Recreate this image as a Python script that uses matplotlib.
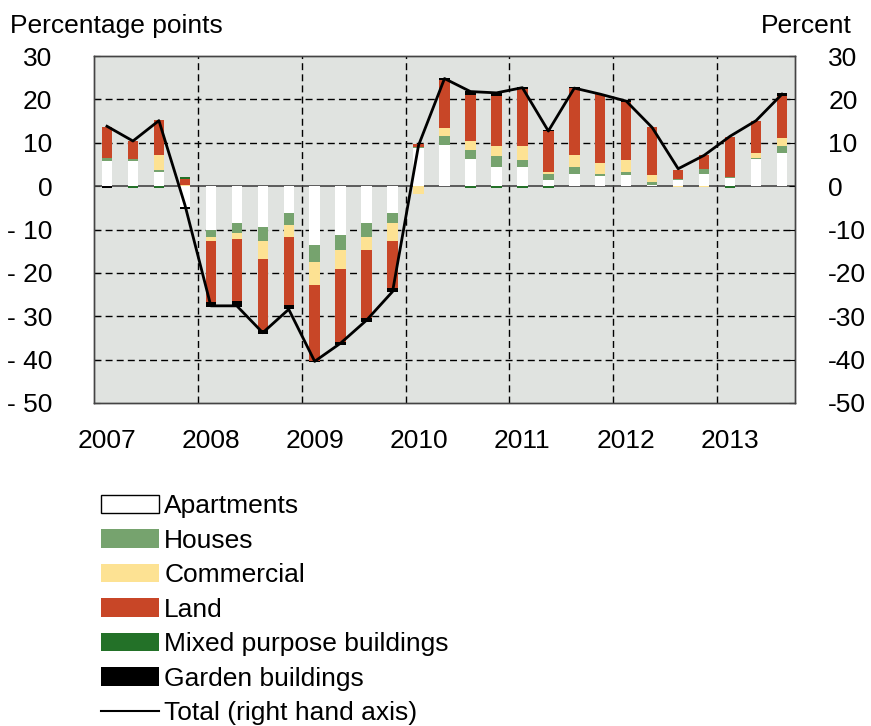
import numpy as np
import matplotlib
matplotlib.use("Agg")
import matplotlib.pyplot as plt
from matplotlib.patches import Patch
from matplotlib.lines import Line2D

plt.rcParams["font.family"] = ["Liberation Sans", "DejaVu Sans"]

# Quarterly contributions, 2007Q1 .. 2013Q3 (percentage points)
quarters = [f"{y}Q{q}" for y in range(2007, 2014) for q in range(1, 5)][:27]
years = ["2007", "2008", "2009", "2010", "2011", "2012", "2013"]

apartments = [5.9, 5.9, 3.3, -4.8,
              -10.0, -8.5, -9.5, -6.2,
              -13.6, -11.2, -8.5, -6.2,
              8.9, 9.5, 6.2, 4.5,
              4.3, 1.4, 2.8, 2.3,
              2.5, 0.2, 1.4, 2.7,
              1.9, 6.2, 7.7]
houses = [0.6, 0.3, 0.5, 0.0,
          -1.7, -2.4, -3.2, -2.7,
          -3.8, -3.6, -3.3, -2.4,
          0.1, 2.1, 2.2, 2.5,
          1.7, 1.4, 1.7, 0.5,
          0.8, 0.8, 0.2, 1.2,
          0.3, 0.3, 1.5]
commercial = [0.0, 0.0, 3.3, 0.3,
              -1.0, -1.4, -4.0, -2.8,
              -5.4, -4.3, -2.9, -4.0,
              -1.8, 1.8, 2.0, 2.3,
              3.2, 0.5, 2.7, 2.6,
              2.7, 1.5, -0.3, -0.3,
              0.0, 1.2, 1.8]
land = [7.2, 4.1, 8.1, 1.4,
        -14.0, -14.1, -16.5, -15.8,
        -17.5, -16.8, -15.8, -11.0,
        0.8, 11.0, 10.7, 11.5,
        13.3, 9.4, 15.4, 15.8,
        13.5, 11.1, 2.2, 3.2,
        9.2, 7.2, 9.8]
mixed = [0.0, -0.4, -0.4, 0.3,
         0.0, 0.0, 0.0, 0.0,
         0.0, 0.0, 0.0, 0.0,
         0.0, 0.0, -0.4, -0.4,
         -0.4, -0.4, 0.0, 0.0,
         0.0, 0.0, 0.0, 0.0,
         -0.4, 0.0, 0.0]
garden = [-0.4, 0.0, 0.0, -0.5,
          -1.1, -1.4, -1.0, -0.8,
          -0.3, -0.8, -0.9, -0.9,
          0.0, 0.5, 0.8, 1.0,
          0.3, 0.2, 0.2, 0.0,
          0.4, 0.0, 0.0, 0.0,
          0.0, 0.0, 0.6]
total = [13.8, 10.4, 15.1, -4.3,
         -27.6, -27.6, -33.8, -28.4,
         -40.4, -36.2, -30.9, -24.3,
         9.4, 24.8, 21.8, 21.5,
         22.7, 12.7, 22.6, 21.2,
         19.6, 13.5, 4.0, 7.1,
         11.5, 15.1, 21.2]

series = [
    ("Apartments", apartments, "white"),
    ("Houses", houses, "#76a36e"),
    ("Commercial", commercial, "#fde293"),
    ("Land", land, "#c84627"),
    ("Mixed purpose buildings", mixed, "#237128"),
    ("Garden buildings", garden, "black"),
]

W, H = 871, 726
fig = plt.figure(figsize=(W / 100, H / 100), dpi=100)
ax = fig.add_axes([94 / W, 1 - 403 / H, 701 / W, 347 / H])
ax.set_facecolor("#e0e3e0")

x = np.arange(len(quarters)) + 0.5
pos_bottom = np.zeros(len(x))
neg_bottom = np.zeros(len(x))
for name, vals, color in series:
    v = np.asarray(vals, dtype=float)
    bottom = np.where(v >= 0, pos_bottom, neg_bottom)
    ax.bar(x, v, bottom=bottom, width=0.4, color=color, linewidth=0, zorder=3)
    pos_bottom += np.clip(v, 0, None)
    neg_bottom += np.clip(v, None, 0)

ax.axhline(0, color="#444444", linewidth=1.2, zorder=2)

# dashed grid lines
for t in range(-40, 30, 10):
    if t != 0:
        ax.axhline(t, color="black", linewidth=1.0, linestyle=(0, (5, 3)), zorder=1)
for xb in range(4, 27, 4):
    ax.axvline(xb, color="black", linewidth=1.0, linestyle=(0, (5, 3)), zorder=1)

ax.set_xlim(0, 27)
ax.set_xticks(np.arange(0, 27, 4) + 0.5)
ax.set_xticklabels(years)
ax.tick_params(axis="x", length=0, pad=19, labelsize=19)

ax2 = ax.twinx()
ax2.plot(x, total, color="black", linewidth=2, zorder=5)

for a in (ax, ax2):
    a.set_ylim(-50, 30)
    a.set_yticks(range(-50, 31, 10))
ax.set_yticklabels([f"- {abs(t)}" if t < 0 else str(t) for t in range(-50, 31, 10)])
ax2.set_yticklabels([str(t) for t in range(-50, 31, 10)])
ax.tick_params(axis="y", direction="in", length=4, pad=30, labelsize=19)
ax2.tick_params(axis="y", direction="in", length=4, pad=24, labelsize=19)

for a in (ax, ax2):
    for s in a.spines.values():
        s.set_color("#444444")
        s.set_linewidth(1.0)

fig.text(10 / W, 1 - 33 / H, "Percentage points", fontsize=19, va="baseline", ha="left")
fig.text(852 / W, 1 - 33 / H, "Percent", fontsize=19, va="baseline", ha="right")

handles = [Patch(facecolor=c, edgecolor="black" if c == "white" else c, linewidth=1 if c == "white" else 0)
           for _, _, c in series]
handles.append(Line2D([0], [0], color="black", linewidth=1.5))
labels = [n for n, _, _ in series] + ["Total (right hand axis)"]
fig.legend(handles, labels, loc="upper left", bbox_to_anchor=(101 / W, 1 - 494 / H),
           frameon=False, fontsize=19, handlelength=2.2, handleheight=0.7,
           handletextpad=0.2, labelspacing=0.4, borderpad=0, borderaxespad=0)

fig.savefig("out.png", dpi=100)
